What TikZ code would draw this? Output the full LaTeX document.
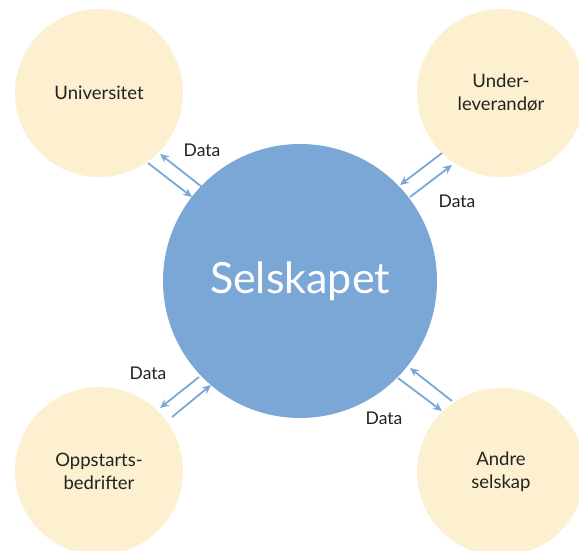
\documentclass[tikz,border=0pt]{standalone}
\usepackage{fontspec}
\setmainfont{Lato}
\usetikzlibrary{arrows.meta}
\definecolor{mainblue}{HTML}{7BA7D7}
\definecolor{paleyellow}{HTML}{FCF0D0}
\definecolor{txt}{HTML}{222222}
\begin{document}
\begin{tikzpicture}[x=1pt,y=-1pt,
  party/.style={circle,fill=paleyellow,minimum size=168pt,inner sep=0pt,align=center,text=txt,font=\fontsize{18.5}{23}\selectfont},
  hub/.style={circle,fill=mainblue,minimum size=274pt,inner sep=0pt,text=white,font=\fontsize{43}{46}\selectfont},
  flow/.style={draw=mainblue,line width=1.8pt,-{Stealth[length=9pt,width=8pt]}},
  lbl/.style={text=txt,font=\fontsize{17.5}{20}\selectfont}]
\useasboundingbox (0,0) rectangle (579,550);
\node[party] (uni) at (99,93) {Universitet};
\node[party] (sub) at (501,93) {Under-\\leverandør};
\node[party] (opp) at (99,471) {Oppstarts-\\bedrifter};
\node[party] (andre) at (501,472) {Andre\\selskap};
\node[hub] (hub) at (300,281) {Selskapet};
% Universitet arrows
\coordinate (u1s) at (202,187); \coordinate (u1e) at (160,154);
\coordinate (u2s) at (148,163); \coordinate (u2e) at (192,197);
\draw[flow] (u1s) -- (u1e);
\draw[flow] (u2s) -- (u2e);
\node[lbl] (dU) at (202,150) {Data};
% Under-leverandor arrows
\coordinate (s1s) at (442,153); \coordinate (s1e) at (400,185);
\coordinate (s2s) at (410,197); \coordinate (s2e) at (452,165);
\draw[flow] (s1s) -- (s1e);
\draw[flow] (s2s) -- (s2e);
\node[lbl] (dS) at (457,201) {Data};
% Oppstarts arrows
\coordinate (o1s) at (199,377); \coordinate (o1e) at (160,408);
\coordinate (o2s) at (172,417); \coordinate (o2e) at (211,385);
\draw[flow] (o1s) -- (o1e);
\draw[flow] (o2s) -- (o2e);
\node[lbl] (dO) at (148,373) {Data};
% Andre arrows
\coordinate (a1s) at (398,378); \coordinate (a1e) at (442,411);
\coordinate (a2s) at (452,401); \coordinate (a2e) at (410,368);
\draw[flow] (a1s) -- (a1e);
\draw[flow] (a2s) -- (a2e);
\node[lbl] (dA) at (384,418) {Data};
\end{tikzpicture}
\end{document}
